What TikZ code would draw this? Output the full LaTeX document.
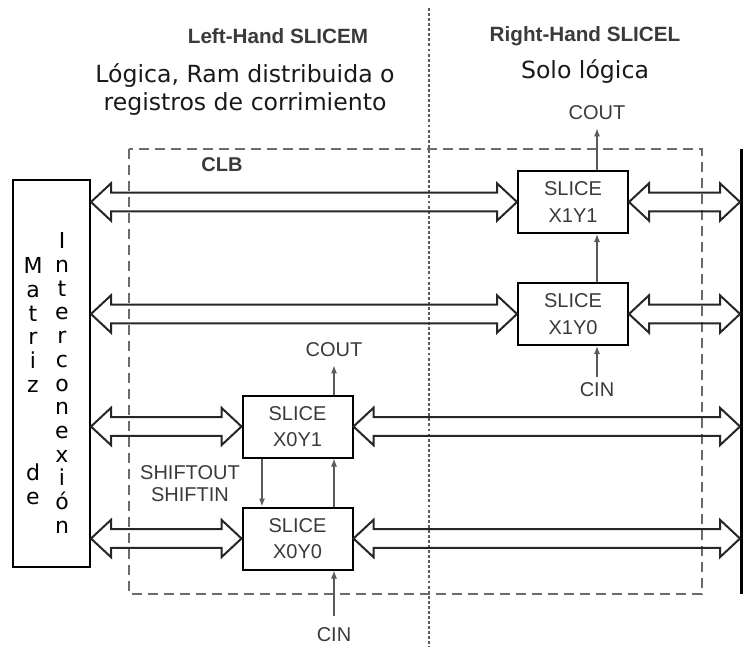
\documentclass[tikz,border=0pt]{standalone}
\usepackage{fontspec}
\setmainfont{Liberation Sans}
\newfontfamily\dejavu{DejaVu Sans}
\usetikzlibrary{arrows.meta,calc}
\definecolor{txtgray}{HTML}{3A3A3A}
\definecolor{linegray}{HTML}{5A5A5A}
\definecolor{dashgray}{HTML}{6A6A6A}
\newcommand{\busarrow}[2]{%
  \draw[bus] let \p1=(#1), \p2=(#2) in
  (\x1,\y1) -- (\x1+15pt,\y1+14pt) -- (\x1+15pt,\y1+7pt) -- (\x2-15pt,\y1+7pt)
  -- (\x2-15pt,\y1+14pt) -- (\x2,\y1) -- (\x2-15pt,\y1-14pt) -- (\x2-15pt,\y1-7pt)
  -- (\x1+15pt,\y1-7pt) -- (\x1+15pt,\y1-14pt) -- cycle;}
\begin{document}
\begin{tikzpicture}[x=0.75pt,y=-0.75pt,
  slicebox/.style={draw=black, line width=1.5pt, minimum width=82.5pt, minimum height=46.5pt,
    inner sep=0pt, align=center, font=\fontsize{15}{20}\selectfont, text=txtgray},
  sig/.style={draw=linegray, line width=0.9pt, -{Latex[length=6pt,width=4.5pt]}},
  lbl/.style={font=\fontsize{15}{20}\selectfont, text=txtgray, inner sep=1pt},
  bus/.style={draw=black!85, line width=1.5pt, line join=miter},
  head/.style={font=\bfseries\fontsize{15.5}{18}\selectfont, text=txtgray},
  desc/.style={font=\dejavu\fontsize{17.7}{21}\selectfont, align=center, text=black!90},
  mletters/.style={font=\dejavu\fontsize{16.5}{17.8}\selectfont, align=center, inner sep=0pt}]
\useasboundingbox (0,0) rectangle (745,647);
% dashed CLB region and dotted divider
\draw[dash pattern=on 7.5pt off 4.5pt, draw=dashgray, line width=1.1pt] (129,149) rectangle (702,594);
\draw[dash pattern=on 2.2pt off 1.6pt, draw=dashgray!85!black, line width=1.1pt] (429,8) -- (429,647);
% headers
\node[head] (hl) at (278,36) {Left-Hand SLICEM};
\node[head] (hr) at (585,36) {Right-Hand SLICEL};
\node[desc] (dl) at (245,90) {Lógica, Ram distribuida o\\registros de corrimiento};
\node[desc] (dr) at (585,72) {Solo lógica};
\node[font=\bfseries\fontsize{15}{18}\selectfont, text=txtgray] (clb) at (222,165) {CLB};
% interconnect matrix
\node[draw=black, line width=1.5pt, minimum width=57.75pt, minimum height=290.25pt] (L) at (51.5,373.5) {};
\node[mletters] (m2) at (62,383) {I\\n\\t\\e\\r\\c\\o\\n\\e\\x\\i\\ó\\n};
\node[mletters] (m1a) at (33,325) {M\\a\\t\\r\\i\\z};
\node[mletters] (m1b) at (33,484) {d\\e};
% right bar
\node[fill=black, minimum width=2.25pt, minimum height=333.75pt, inner sep=0pt, outer sep=0pt] (bar) at (741.5,371.5) {};
% slices
\node[slicebox] (X1Y1) at (573,202) {SLICE\\X1Y1};
\node[slicebox] (X1Y0) at (573,314) {SLICE\\X1Y0};
\node[slicebox] (X0Y1) at (297.5,426.5) {SLICE\\X0Y1};
\node[slicebox] (X0Y0) at (297.5,538.5) {SLICE\\X0Y0};
% carry labels
\node[lbl] (cout1) at (597,113) {COUT};
\node[lbl] (cin1) at (597,390) {CIN};
\node[lbl] (cout0) at (334,350) {COUT};
\node[lbl] (cin0) at (334,635) {CIN};
\node[lbl, align=center, font=\fontsize{15}{16.5}\selectfont] (shl) at (190,484) {SHIFTOUT\\SHIFTIN};
\coordinate (sh) at (262,0);
% carry chains
\draw[sig] (X1Y1.north -| cout1) -- ([yshift=-5pt]cout1.south);
\draw[sig] (X1Y0.north -| cout1) -- (X1Y1.south -| cout1);
\draw[sig] ([yshift=3pt]cin1.north) -- (X1Y0.south -| cin1);
\draw[sig] (X0Y1.north -| cout0) -- ([yshift=-5pt]cout0.south);
\draw[sig] (X0Y0.north -| cout0) -- (X0Y1.south -| cout0);
\draw[sig] ([yshift=8pt]cin0.north) -- (X0Y0.south -| cin0);
\draw[sig] (X0Y1.south -| sh) -- (X0Y0.north -| sh);
% buses
\busarrow{L.east |- X1Y1.west}{X1Y1.west}
\busarrow{X1Y1.east}{bar.west |- X1Y1.east}
\busarrow{L.east |- X1Y0.west}{X1Y0.west}
\busarrow{X1Y0.east}{bar.west |- X1Y0.east}
\busarrow{L.east |- X0Y1.west}{X0Y1.west}
\busarrow{X0Y1.east}{bar.west |- X0Y1.east}
\busarrow{L.east |- X0Y0.west}{X0Y0.west}
\busarrow{X0Y0.east}{bar.west |- X0Y0.east}
\end{tikzpicture}
\end{document}
